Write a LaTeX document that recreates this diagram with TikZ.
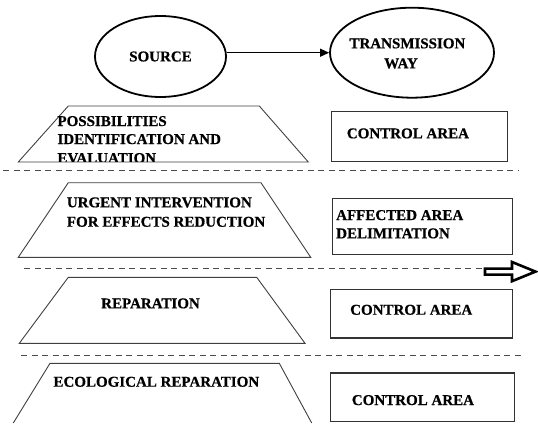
\documentclass[tikz,border=0pt]{standalone}
\usepackage{fontspec}
\setmainfont{Liberation Serif}[BoldFont={Liberation Serif Bold}]
\newfontfamily\diagfont{Liberation Serif Bold}[FakeBold=0.6]
\usetikzlibrary{shapes.geometric,arrows.meta}
\begin{document}
\begin{tikzpicture}[x=1pt,y=-1pt,
  lbl/.style={font=\diagfont\fontsize{15}{18}\selectfont, anchor=base west, inner sep=0pt},
  oval/.style={ellipse, draw=black, line width=1.8pt, inner sep=0pt, font=\diagfont\fontsize{15}{18}\selectfont},
  areabox/.style={rectangle, draw=black!80, line width=1.1pt, inner sep=0pt, anchor=north west},
  trap/.style={draw=black!75, line width=0.9pt},
  sepline/.style={draw=black!70, line width=0.9pt, dash pattern=on 6pt off 4.5pt},
  blockarrow/.style={draw=black, line width=2.6pt, line join=miter},
]
\useasboundingbox (0,0) rectangle (538,423);
\fill[white] (0,0) rectangle (538,423);

% top ellipses
\node[oval, minimum width=131pt, minimum height=81pt] (src) at (160.5,56.5) {SOURCE};
\node[oval, minimum width=164pt, minimum height=90pt] (tw) at (412,52.7) {};
\node[lbl] (tw1) at (349.3,48.3) {TRANSMISSION};
\node[lbl] (tw2) at (384,68.3) {WAY};
\draw[line width=1.3pt, -{Triangle[length=9pt,width=8pt]}] (src.east |- tw.west) -- (tw.west);

% row 1
\draw[trap] (68.3,106) -- (259.3,106) -- (308.3,162) -- (18.3,162) -- cycle;
\node[lbl] (p1) at (57.3,126) {POSSIBILITIES};
\node[lbl] (p2) at (57.3,144) {IDENTIFICATION AND};
\begin{scope}
  \clip (0,100) rectangle (320,161.3);
  \node[lbl] (p3) at (57.3,163) {EVALUATION};
\end{scope}
\node[areabox, minimum width=176.6pt, minimum height=50pt] (b1) at (330.7,110.7) {};
\node[lbl] (c1) at (346.7,138.3) {CONTROL AREA};

\draw[sepline] (3,170.7) -- (518,170.7);

% row 2
\draw[trap] (68.3,182.7) -- (261,182.7) -- (310.7,257.3) -- (18.3,257.3) -- cycle;
\node[lbl] (u1) at (66.7,207.3) {URGENT INTERVENTION};
\node[lbl] (u2) at (66.7,226.7) {FOR EFFECTS REDUCTION};
\node[areabox, minimum width=180.6pt, minimum height=55.7pt] (b2) at (331.7,198.3) {};
\node[lbl] (a1) at (336,220) {AFFECTED AREA};
\node[lbl] (a2) at (336,238.3) {DELIMITATION};

\draw[sepline] (24,268.3) -- (484,268.3);
\draw[blockarrow] (485,268.6) -- (512,268.6) -- (512,262) -- (535.5,271.6) -- (512,281.2) -- (512,274.6) -- (485,274.6) -- cycle;

% row 3
\draw[trap] (68.3,277.3) -- (256.7,277.3) -- (305,343.3) -- (19.3,343.3) -- cycle;
\node[lbl] (r1) at (101,308.3) {REPARATION};
\node[areabox, minimum width=182pt, minimum height=48.4pt] (b3) at (330,289) {};
\node[lbl] (c3) at (350,314.7) {CONTROL AREA};

\draw[sepline] (21,355) -- (522,355);

% row 4
\draw[trap] (13.3,423) -- (50,363.3) -- (279.3,363.3) -- (311.7,423);
\node[lbl] (e1) at (53.3,386.7) {ECOLOGICAL REPARATION};
\node[areabox, minimum width=183.7pt, minimum height=48.6pt] (b4) at (330,372.4) {};
\node[lbl] (c4) at (351.7,405) {CONTROL AREA};
\end{tikzpicture}
\end{document}
